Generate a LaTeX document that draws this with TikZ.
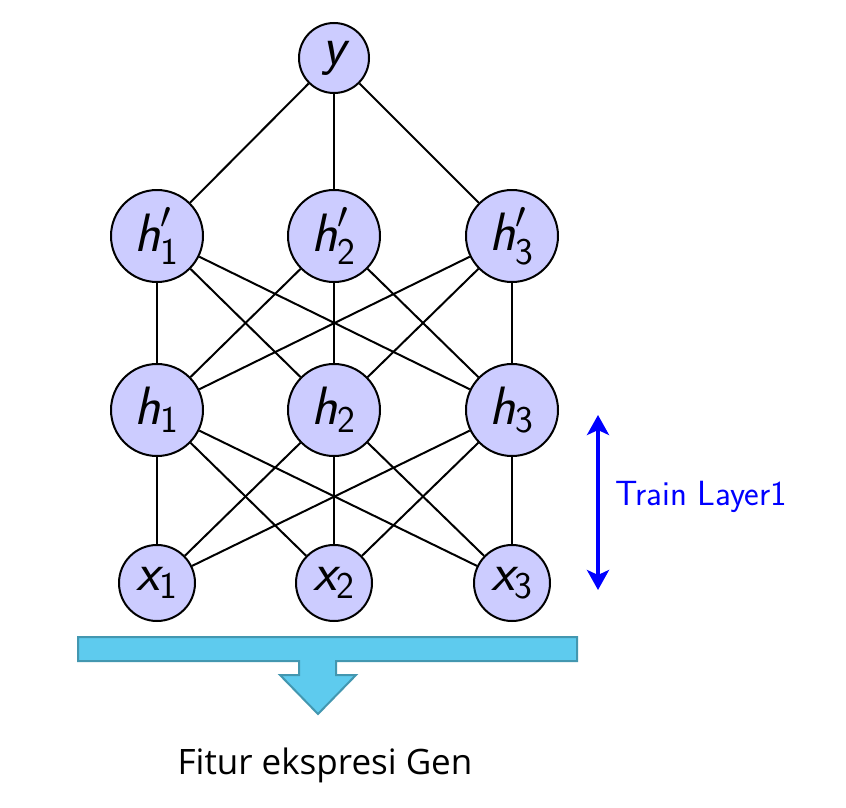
\RequirePackage{fix-cm}
\documentclass[tikz,border=0pt]{standalone}
\usepackage{amsmath}
\usepackage{fontspec}
\newfontfamily\genfont{Open Sans}
\usepackage{tikz}
\usetikzlibrary{arrows.meta}
\definecolor{arrowfill}{HTML}{5ECBEE}
\definecolor{arrowline}{HTML}{4397B0}
\newcommand{\NL}[2]{$\textsf{\itshape #1}_{\textsf{#2}}$}
\newcommand{\NLP}[2]{$\textsf{\itshape #1}'_{\textsf{#2}}$}

\begin{document}
\begin{tikzpicture}[x=1pt, y=-1pt,
  neuron/.style={circle, draw, line width=2pt, fill=blue!20, inner sep=0pt,
    font=\fontsize{54}{60}\sffamily\selectfont},
  link/.style={line width=2pt}]

  \useasboundingbox (0,0) rectangle (846,808);

  \newcommand\XA{157}
  \newcommand\XB{334}
  \newcommand\XC{512}

  %% input layer
  \node[neuron, minimum size=76pt] (x1) at (\XA, 583) {\NL{x}{1}};
  \node[neuron, minimum size=76pt] (x2) at (\XB, 583) {\NL{x}{2}};
  \node[neuron, minimum size=76pt] (x3) at (\XC, 583) {\NL{x}{3}};

  %% first hidden layer
  \node[neuron, minimum size=92pt] (h1) at (\XA, 410) {\NL{h}{1}};
  \node[neuron, minimum size=92pt] (h2) at (\XB, 410) {\NL{h}{2}};
  \node[neuron, minimum size=92pt] (h3) at (\XC, 410) {\NL{h}{3}};

  %% second hidden layer
  \node[neuron, minimum size=92pt] (hp1) at (\XA, 236) {\NLP{h}{1}};
  \node[neuron, minimum size=92pt] (hp2) at (\XB, 236) {\NLP{h}{2}};
  \node[neuron, minimum size=92pt] (hp3) at (\XC, 236) {\NLP{h}{3}};

  %% output
  \node[neuron, minimum size=70pt] (y) at (\XB, 58) {$\textsf{\itshape y}$};

  \foreach \i in {1,2,3} {
    \foreach \j in {1,2,3} {
      \draw[link] (x\i) -- (h\j); %% x - h
      \draw[link] (h\i) -- (hp\j); %% h - h'
    }
    \draw[link] (hp\i) -- (y); %% h' - y
  }

  %% train arrow
  \coordinate (ttop) at (598, 415);
  \coordinate (tbot) at (598, 590);
  \draw[blue, line width=4.5pt, {Stealth[length=20pt, width=22pt, inset=5pt]}-{Stealth[length=20pt, width=22pt, inset=5pt]}]
    (ttop) -- (tbot);
  \node[anchor=west, blue, font=\fontsize{35}{40}\sffamily\selectfont] (train) at (612, 497) {Train Layer1};

  %% output arrow
  \draw[line width=2pt, arrowline, fill=arrowfill, line join=miter]
    (78, 637) -- (577, 637) -- (577, 661) -- (336, 661) -- (336, 675)
    -- (356, 675) -- (318, 714) -- (280, 675) -- (299, 675) -- (299, 661)
    -- (78, 661) -- cycle;
  \node[font=\genfont\fontsize{35}{40}\selectfont] (gen) at (325, 765) {Fitur ekspresi Gen};

\end{tikzpicture}
\end{document}
